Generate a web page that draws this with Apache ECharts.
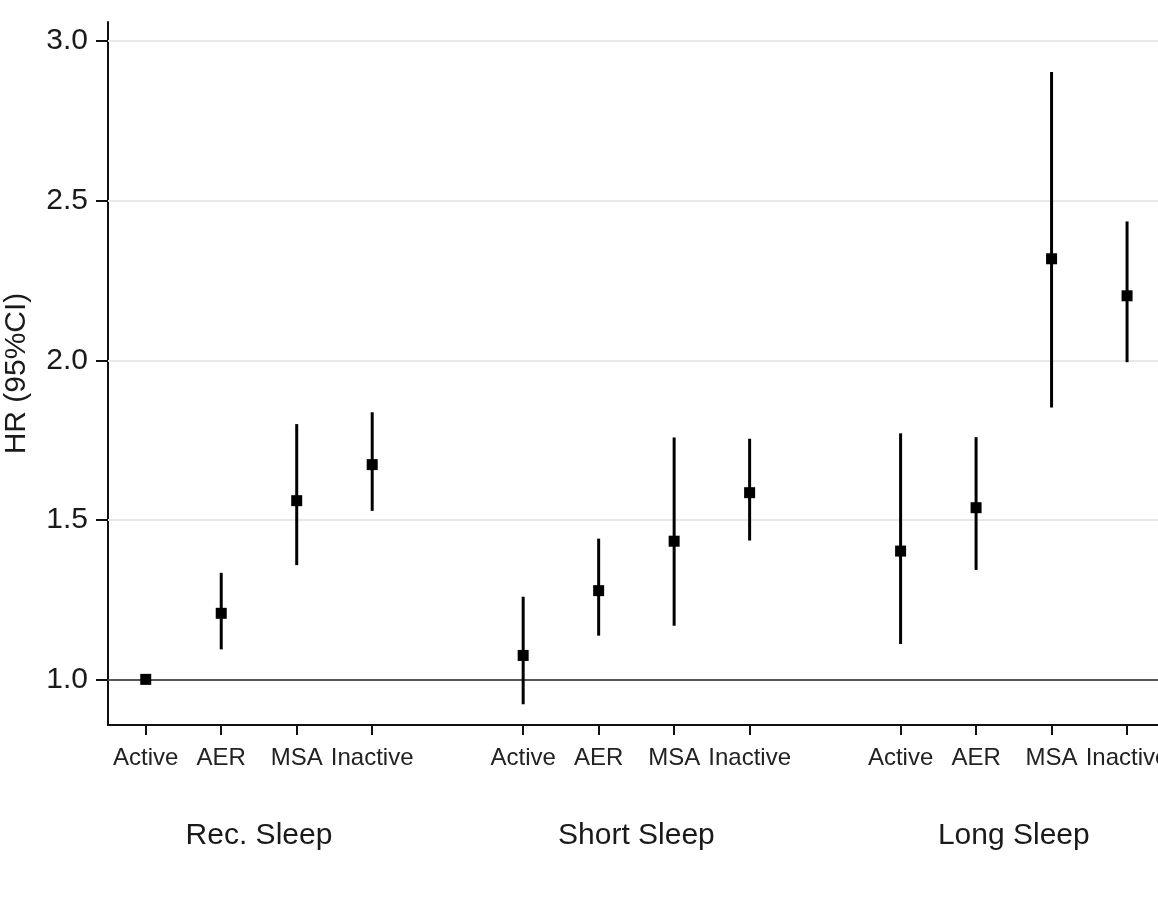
<!DOCTYPE html>
<html>
<head>
<meta charset="utf-8">
<script src="https://cdn.jsdelivr.net/npm/echarts@6/dist/echarts.min.js"></script>
<style>
html,body{margin:0;padding:0;background:#fff;}
#chart{width:1158px;height:915px;}
</style>
</head>
<body>
<div id="chart"></div>
<script>
// ---- data ----
var groups = ['Rec. Sleep', 'Short Sleep', 'Long Sleep'];
var groupCenters = [1.5, 6.5, 11.5];
var levels = ['Active', 'AER', 'MSA', 'Inactive'];
var xPos = [0, 1, 2, 3, 5, 6, 7, 8, 10, 11, 12, 13];
var hr    = [1.000, 1.207, 1.560, 1.673, 1.075, 1.278, 1.433, 1.585, 1.402, 1.538, 2.318, 2.202];
var lower = [1.000, 1.094, 1.358, 1.528, 0.922, 1.137, 1.168, 1.435, 1.111, 1.343, 1.852, 1.994];
var upper = [1.000, 1.334, 1.800, 1.837, 1.259, 1.441, 1.758, 1.754, 1.771, 1.759, 2.903, 2.435];
var yTicks = [1.0, 1.5, 2.0, 2.5, 3.0];
var gridValues = [1.5, 2.0, 2.5, 3.0];
var refValue = 1.0;

var FONT = '"Liberation Sans", Arial, sans-serif';

var pointData = xPos.map(function (x, i) { return [x, hr[i]]; });
var ciData = xPos.map(function (x, i) { return [x, lower[i], upper[i]]; });

var chart = echarts.init(document.getElementById('chart'));
chart.setOption({
  animation: false,
  backgroundColor: '#fff',
  grid: { left: 108, right: 0, top: 22, bottom: 190, containLabel: false, outerBoundsMode: 'none' },
  xAxis: [{
    type: 'value', min: -0.5, max: 13.41,
    axisLine: { show: true, onZero: false, lineStyle: { color: '#111', width: 2 } },
    axisTick: { show: true, customValues: xPos, length: 10, lineStyle: { color: '#111', width: 2 } },
    axisLabel: {
      customValues: xPos, margin: 21,
      formatter: function (v) { var i = xPos.indexOf(v); return levels[i % 4]; },
      fontFamily: FONT, fontSize: 24, color: '#222'
    },
    splitLine: { show: false }
  }, {
    type: 'value', min: -0.5, max: 13.41, position: 'bottom',
    axisLine: { show: false }, axisTick: { show: false },
    axisLabel: {
      customValues: groupCenters, margin: 96,
      formatter: function (v) { return groups[groupCenters.indexOf(v)]; },
      fontFamily: FONT, fontSize: 30, color: '#1a1a1a'
    },
    splitLine: { show: false }
  }],
  yAxis: {
    type: 'value', min: 0.857, max: 3.06,
    name: 'HR (95%CI)', nameLocation: 'middle', nameRotate: 90, nameGap: 76,
    nameTextStyle: { fontFamily: FONT, fontSize: 30, color: '#1a1a1a' },
    axisLine: { show: true, onZero: false, lineStyle: { color: '#111', width: 2 } },
    axisTick: { show: true, customValues: yTicks, length: 12, lineStyle: { color: '#111', width: 2 } },
    axisLabel: {
      customValues: yTicks, margin: 20,
      formatter: function (v) { return v.toFixed(1); },
      fontFamily: FONT, fontSize: 30, color: '#1a1a1a'
    },
    splitLine: { show: false }
  },
  series: [{
    type: 'line', data: [], z: 1, silent: true,
    markLine: {
      z: 1, silent: true, symbol: 'none', label: { show: false },
      lineStyle: { color: '#e8e8e8', width: 2, type: 'solid' },
      emphasis: { disabled: true },
      data: gridValues.map(function (v) { return { yAxis: v }; })
    }
  }, {
    type: 'line', data: [], z: 2, silent: true,
    markLine: {
      z: 2, silent: true, symbol: 'none', label: { show: false },
      lineStyle: { color: '#555', width: 2, type: 'solid' },
      emphasis: { disabled: true },
      data: [{ yAxis: refValue }]
    }
  }, {
    type: 'custom', z: 3, silent: true,
    data: ciData,
    encode: { x: 0, y: [1, 2] },
    renderItem: function (params, api) {
      var x = api.value(0);
      var p1 = api.coord([x, api.value(1)]);
      var p2 = api.coord([x, api.value(2)]);
      return {
        type: 'line',
        shape: { x1: p1[0], y1: p1[1], x2: p2[0], y2: p2[1] },
        style: { stroke: '#000', lineWidth: 3 }
      };
    }
  }, {
    type: 'scatter', z: 4, silent: true,
    symbol: 'rect', symbolSize: 11,
    itemStyle: { color: '#000', opacity: 1 },
    data: pointData
  }]
});
</script>
</body>
</html>
